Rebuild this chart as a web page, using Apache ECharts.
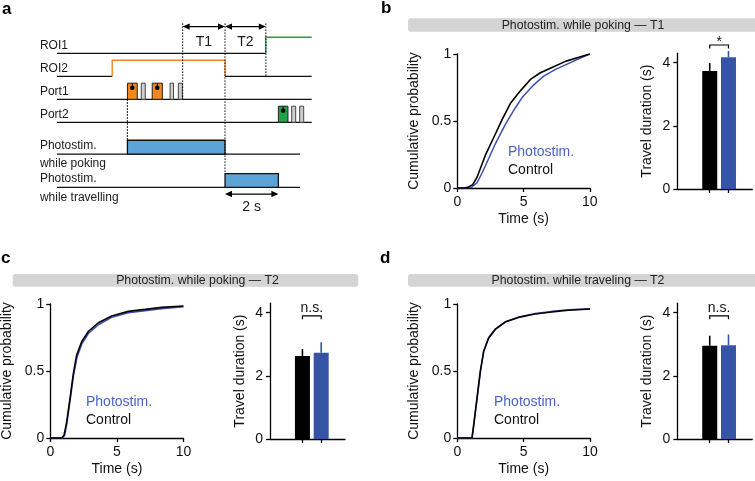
<!DOCTYPE html>
<html>
<head>
<meta charset="utf-8">
<script src="https://cdn.jsdelivr.net/npm/echarts@6/dist/echarts.min.js"></script>
<style>html,body{margin:0;padding:0;background:#fff;}#c{width:755px;height:481px;}</style>
</head>
<body>
<div id="c"></div>
<script>
// ---------------- DATA ----------------
// Panel a: schematic event times (s) and row levels
const rowNames = ['ROI1', 'ROI2', 'Port1', 'Port2', 'Photostim.\nwhile poking', 'Photostim.\nwhile travelling'];
const rowLevel = [0, 1, 2, 3, 4.38, 5.83];
const traceEnd = 9.55;
const stimTraceEnd = 9.11;
const roi1On = 7.83;
const roi2On = 2.07;
const roi2Off = 6.30;
const port1Pokes = [[2.64, 3.01, 'reward'], [3.16, 3.31, 'poke'], [3.57, 3.95, 'reward'], [4.24, 4.37, 'poke'], [4.55, 4.70, 'poke']];
const port2Pokes = [[8.30, 8.66, 'reward'], [8.80, 8.95, 'poke'], [9.10, 9.25, 'poke']];
const stimPoking = [2.64, 6.30];
const stimTravel = [6.30, 8.30];
const intervalT1 = [4.71, 6.30];
const intervalT2 = [6.30, 7.83];
const twoSec = [6.30, 8.30];

// CDF curves [time (s), cumulative probability]
const bControl = [[0,0],[0.5,0],[0.86,0.008],[1.16,0.025],[1.49,0.08],[2.12,0.245],[2.74,0.375],[3.38,0.51],[4.0,0.63],[4.76,0.725],[5.52,0.81],[6.27,0.86],[7.15,0.90],[8.16,0.945],[9.17,0.975],[10,1.0]];
const bPhoto = [[0,0],[0.6,0],[1.1,0.008],[1.49,0.04],[1.86,0.11],[2.37,0.22],[2.87,0.33],[3.63,0.475],[4.26,0.58],[4.89,0.675],[5.77,0.77],[6.52,0.835],[7.41,0.885],[8.41,0.93],[9.29,0.97],[10,1.0]];
const cControl = [[0,0],[0.85,0],[1.03,0.02],[1.23,0.12],[1.48,0.295],[1.73,0.48],[1.98,0.62],[2.36,0.72],[2.86,0.795],[3.61,0.86],[4.61,0.91],[5.86,0.945],[7.12,0.96],[8.37,0.975],[10,0.985]];
const cPhoto = [[0,0],[0.9,0],[1.08,0.02],[1.25,0.11],[1.5,0.29],[1.75,0.47],[2.0,0.6],[2.36,0.70],[2.86,0.78],[3.61,0.845],[4.61,0.90],[5.86,0.935],[7.12,0.95],[8.37,0.965],[10,0.98]];
const dControl = [[0,0],[1.1,0],[1.23,0.095],[1.48,0.295],[1.73,0.495],[1.98,0.645],[2.36,0.745],[2.86,0.81],[3.61,0.865],[4.61,0.90],[5.86,0.925],[7.12,0.94],[8.37,0.953],[10,0.963]];
const dPhoto = [[0,0],[1.12,0],[1.25,0.10],[1.5,0.30],[1.75,0.50],[2.0,0.65],[2.36,0.75],[2.86,0.813],[3.61,0.867],[4.61,0.902],[5.86,0.93],[7.12,0.945],[8.37,0.958],[10,0.965]];

// Bar charts: travel duration (s), mean and upper error
const barGroups = ['Control', 'Photostim.'];
const barPos = [1, 2];
const bMeans = [3.74, 4.17], bErr = [0.25, 0.20];
const cMeans = [2.63, 2.73], cErr = [0.22, 0.33];
const dMeans = [2.95, 2.97], dErr = [0.32, 0.34];
const sigLabels = ['*', 'n.s.', 'n.s.'];
const bracketLevel = [4.56, 3.9, 3.9];

const cdfTicks = [0, 0.5, 1];
const timeTicks = [0, 5, 10];
const durTicks = [0, 2, 4];

// ---------------- STYLE ----------------
const FONT = "'Liberation Sans', Arial, Helvetica, sans-serif";
const BLACK = '#000';
const BLUE_BAR = '#3654a5';
const BLUE_LINE = '#3f4fae';
const BLUE_TEXT = '#4a64c4';
const ORANGE = '#f3861f';
const GREEN = '#1ea24b';
const STIM = '#5ca4d8';

const chart = echarts.init(document.getElementById('c'), null, {renderer: 'canvas'});

// Panel a renderer
function renderA(params, api) {
  const P = (t, y) => api.coord([t, y]);
  const ch = [];
  const line = (pts, color, w, dash) => ch.push({type: 'polyline', shape: {points: pts.map(p => P(p[0], p[1]))}, style: {stroke: color, lineWidth: w, fill: null, lineDash: dash || null}});
  const rect = (t0, t1, yb, h, fill, stroke, lw) => {
    const a = P(t0, yb - h), b = P(t1, yb);
    ch.push({type: 'rect', shape: {x: a[0], y: a[1], width: b[0] - a[0], height: b[1] - a[1]}, style: {fill: fill, stroke: stroke, lineWidth: lw}});
  };
  const txt = (t, y, s, size, align, va, color, lh) => {
    const p = P(t, y);
    ch.push({type: 'text', style: {text: s, x: p[0], y: p[1], font: size + 'px ' + FONT, fill: color || '#1a1a1a', align: align, verticalAlign: va, lineHeight: lh || size}});
  };
  const arrow = (t0, t1, y) => {
    const a = P(t0, y), b = P(t1, y);
    const L = 7, W = 3.2;
    ch.push({type: 'line', shape: {x1: a[0] + 2, y1: a[1], x2: b[0] - 2, y2: b[1]}, style: {stroke: '#000', lineWidth: 1.3}});
    ch.push({type: 'polygon', shape: {points: [[a[0], a[1]], [a[0] + L, a[1] - W], [a[0] + L, a[1] + W]]}, style: {fill: '#000'}});
    ch.push({type: 'polygon', shape: {points: [[b[0], b[1]], [b[0] - L, b[1] - W], [b[0] - L, b[1] + W]]}, style: {fill: '#000'}});
  };
  const HH = 0.7, SH = 0.6;
  // traces
  line([[0, rowLevel[0]], [roi1On, rowLevel[0]]], '#111', 1.2);
  line([[roi1On, rowLevel[0]], [roi1On, rowLevel[0] - HH], [traceEnd, rowLevel[0] - HH]], GREEN, 1.4);
  line([[0, rowLevel[1]], [roi2On, rowLevel[1]]], '#111', 1.2);
  line([[roi2On, rowLevel[1]], [roi2On, rowLevel[1] - HH], [roi2Off, rowLevel[1] - HH], [roi2Off, rowLevel[1]]], ORANGE, 1.4);
  line([[roi2Off, rowLevel[1]], [traceEnd, rowLevel[1]]], '#111', 1.2);
  line([[0, rowLevel[2]], [traceEnd, rowLevel[2]]], '#111', 1.2);
  line([[0, rowLevel[3]], [traceEnd, rowLevel[3]]], '#111', 1.2);
  line([[0, rowLevel[4]], [stimTraceEnd, rowLevel[4]]], '#111', 1.2);
  line([[0, rowLevel[5]], [stimTraceEnd, rowLevel[5]]], '#111', 1.2);
  // stim boxes
  rect(stimPoking[0], stimPoking[1], rowLevel[4], SH, STIM, '#111', 1.3);
  rect(stimTravel[0], stimTravel[1], rowLevel[5], SH, STIM, '#111', 1.3);
  // pokes
  const drawPokes = (arr, lvl, rewardColor) => arr.forEach(p => {
    if (p[2] === 'reward') {
      rect(p[0], p[1], lvl, HH, rewardColor, '#222', 1);
      const top = P((p[0] + p[1]) / 2, lvl - HH);
      ch.push({type: 'line', shape: {x1: top[0], y1: top[1], x2: top[0], y2: top[1] + 4}, style: {stroke: '#000', lineWidth: 1}});
      ch.push({type: 'circle', shape: {cx: top[0], cy: top[1] + 4.5, r: 2.3}, style: {fill: '#000'}});
    } else {
      rect(p[0], p[1], lvl, HH, '#cfcfcf', '#444', 1);
    }
  });
  drawPokes(port1Pokes, rowLevel[2], ORANGE);
  drawPokes(port2Pokes, rowLevel[3], GREEN);
  // dotted guides
  const dash = [1.4, 1.6];
  line([[intervalT1[0], -1.3], [intervalT1[0], rowLevel[2]]], '#000', 1.2, dash);
  line([[intervalT1[1], -1.3], [intervalT1[1], rowLevel[5] - SH]], '#000', 1.2, dash);
  line([[intervalT2[1], -1.3], [intervalT2[1], rowLevel[1]]], '#000', 1.2, dash);
  line([[stimPoking[0], rowLevel[2]], [stimPoking[0], rowLevel[4] - SH]], '#000', 1.2, dash);
  // arrows
  arrow(intervalT1[0], intervalT1[1], -1.16);
  arrow(intervalT2[0], intervalT2[1], -1.16);
  arrow(twoSec[0], twoSec[1], 6.12);
  txt((intervalT1[0] + intervalT1[1]) / 2, -0.5, 'T1', 14, 'center', 'middle');
  txt((intervalT2[0] + intervalT2[1]) / 2, -0.5, 'T2', 14, 'center', 'middle');
  txt((twoSec[0] + twoSec[1]) / 2, 6.67, '2 s', 14, 'center', 'middle');
  // row labels
  rowNames.forEach((n, i) => {
    if (n.indexOf('\n') >= 0) txt(-0.64, rowLevel[i] + 0.03, n, 12, 'left', 'middle', '#1a1a1a', 18.5);
    else txt(-0.64, rowLevel[i] - 0.05, n, 12, 'left', 'bottom');
  });
  return {type: 'group', children: ch};
}

function errRender(means, errs) {
  return function (params, api) {
    const i = params.dataIndex;
    const a = api.coord([barPos[i], means[i]]);
    const b = api.coord([barPos[i], means[i] + errs[i]]);
    return {type: 'line', shape: {x1: a[0], y1: a[1], x2: b[0], y2: b[1]}, style: {stroke: i === 0 ? '#000' : BLUE_BAR, lineWidth: 1.6}};
  };
}
function bracketRender(k) {
  return function (params, api) {
    const a = api.coord([barPos[0], bracketLevel[k]]);
    const b = api.coord([barPos[1], bracketLevel[k]]);
    const lab = sigLabels[k];
    return {type: 'group', children: [
      {type: 'polyline', shape: {points: [[a[0], a[1] + 3.5], [a[0], a[1]], [b[0], b[1]], [b[0], b[1] + 3.5]]}, style: {stroke: '#000', lineWidth: 1.2, fill: null}},
      {type: 'text', style: {text: lab, x: (a[0] + b[0]) / 2, y: a[1] + (lab === '*' ? 4 : -1), font: '14px ' + FONT, fill: '#111', align: 'center', verticalAlign: 'bottom'}}
    ]};
  };
}

const grids = [
  {left: 57, top: 16.5, width: 254.7, height: 197.8},          // a
  {left: 457.3, top: 54, width: 132.5, height: 134},            // b cdf
  {left: 677.3, top: 53.2, width: 75, height: 135.8},           // b bar
  {left: 50.3, top: 304, width: 133.2, height: 134},            // c cdf
  {left: 270, top: 303.2, width: 75, height: 135.8},            // c bar
  {left: 457.3, top: 304, width: 132.7, height: 134},           // d cdf
  {left: 677.3, top: 303.2, width: 75, height: 135.8}           // d bar
].map(g => Object.assign({outerBoundsMode: 'none', containLabel: false}, g));

const axLine = {show: true, onZero: false, lineStyle: {color: '#000', width: 1.3}};
const axTick = {show: true, inside: false, length: 4, lineStyle: {color: '#000', width: 1.3}};
const axLabel = {color: '#111', fontSize: 14, fontFamily: FONT};
const nameStyle = {color: '#111', fontSize: 14, fontFamily: FONT};

const xAxes = [{gridIndex: 0, type: 'value', min: 0, max: 9.55, show: false}];
const yAxes = [{gridIndex: 0, type: 'value', min: -1.6, max: 7, inverse: true, show: false}];
[1, 3, 5].forEach(g => {
  xAxes.push({gridIndex: g, type: 'value', min: 0, max: 10, interval: 5, axisLine: axLine, axisTick: axTick, splitLine: {show: false},
    axisLabel: Object.assign({margin: 7}, axLabel), name: 'Time (s)', nameLocation: 'middle', nameGap: 24, nameTextStyle: nameStyle});
  yAxes.push({gridIndex: g, type: 'value', min: 0, max: 1, interval: 0.5, axisLine: axLine, axisTick: axTick, splitLine: {show: false},
    axisLabel: Object.assign({margin: 6}, axLabel), name: 'Cumulative probability', nameLocation: 'middle', nameGap: 36, nameTextStyle: nameStyle});
  xAxes.push({gridIndex: g + 1, type: 'value', min: -0.73, max: 3.27, axisLine: axLine,
    axisTick: Object.assign({customValues: barPos}, axTick), axisLabel: {show: false}, splitLine: {show: false}});
  yAxes.push({gridIndex: g + 1, type: 'value', min: 0, max: 4.3, interval: 2, axisLine: axLine,
    axisTick: Object.assign({customValues: durTicks}, axTick), splitLine: {show: false},
    axisLabel: Object.assign({margin: 7, customValues: durTicks}, axLabel),
    name: 'Travel duration (s)', nameLocation: 'middle', nameGap: 23, nameTextStyle: nameStyle});
});

const cdfSets = [[bPhoto, bControl], [cPhoto, cControl], [dPhoto, dControl]];
const barSets = [[bMeans, bErr], [cMeans, cErr], [dMeans, dErr]];

const series = [{type: 'custom', xAxisIndex: 0, yAxisIndex: 0, data: [[0, 0]], renderItem: renderA, clip: false, silent: true}];
cdfSets.forEach((s, k) => {
  const ax = 1 + k * 2;
  series.push({type: 'line', name: barGroups[1], xAxisIndex: ax, yAxisIndex: ax, data: s[0], showSymbol: false, symbol: 'none', lineStyle: {color: BLUE_LINE, width: 1.5}, itemStyle: {color: BLUE_LINE}});
  series.push({type: 'line', name: barGroups[0], xAxisIndex: ax, yAxisIndex: ax, data: s[1], showSymbol: false, symbol: 'none', lineStyle: {color: BLACK, width: 1.6}, itemStyle: {color: BLACK}});
});
barSets.forEach((s, k) => {
  const ax = 2 + k * 2;
  series.push({type: 'bar', xAxisIndex: ax, yAxisIndex: ax, barWidth: 15,
    data: barPos.map((p, i) => ({value: [p, s[0][i]], itemStyle: {color: i === 0 ? BLACK : BLUE_BAR}}))});
  series.push({type: 'custom', xAxisIndex: ax, yAxisIndex: ax, data: barPos.map((p, i) => [p, s[0][i] + s[1][i]]), renderItem: errRender(s[0], s[1]), clip: false, z: 3});
  series.push({type: 'custom', xAxisIndex: ax, yAxisIndex: ax, data: [[1.5, bracketLevel[k]]], renderItem: bracketRender(k), clip: false, z: 3});
});

const TF = '12.3px ' + FONT;
const graphic = [
  // panel letters
  {type: 'text', left: 2, top: 1, style: {text: 'a', font: 'bold 17px ' + FONT, fill: '#000'}},
  {type: 'text', left: 381, top: 0, style: {text: 'b', font: 'bold 17px ' + FONT, fill: '#000'}},
  {type: 'text', left: 1, top: 250, style: {text: 'c', font: 'bold 17px ' + FONT, fill: '#000'}},
  {type: 'text', left: 380, top: 250, style: {text: 'd', font: 'bold 17px ' + FONT, fill: '#000'}},
  // title bars
  {type: 'rect', shape: {x: 408, y: 18.3, width: 352, height: 13.4, r: 3}, style: {fill: '#d4d4d4'}},
  {type: 'rect', shape: {x: 12.7, y: 274, width: 345.6, height: 12.7, r: 3}, style: {fill: '#d4d4d4'}},
  {type: 'rect', shape: {x: 408, y: 274, width: 352, height: 12.7, r: 3}, style: {fill: '#d4d4d4'}},
  {type: 'text', style: {text: 'Photostim. while poking — T1', x: 583, y: 25.3, font: TF, fill: '#222', align: 'center', verticalAlign: 'middle'}},
  {type: 'text', style: {text: 'Photostim. while poking — T2', x: 197.5, y: 280.5, font: TF, fill: '#222', align: 'center', verticalAlign: 'middle'}},
  {type: 'text', style: {text: 'Photostim. while traveling — T2', x: 578, y: 280.5, font: TF, fill: '#222', align: 'center', verticalAlign: 'middle'}},
  // in-plot legends
  {type: 'text', style: {text: barGroups[1], x: 508, y: 152, font: '14px ' + FONT, fill: BLUE_TEXT, align: 'left', verticalAlign: 'middle'}},
  {type: 'text', style: {text: barGroups[0], x: 508, y: 170, font: '14px ' + FONT, fill: '#111', align: 'left', verticalAlign: 'middle'}},
  {type: 'text', style: {text: barGroups[1], x: 86, y: 401.7, font: '14px ' + FONT, fill: BLUE_TEXT, align: 'left', verticalAlign: 'middle'}},
  {type: 'text', style: {text: barGroups[0], x: 86, y: 420, font: '14px ' + FONT, fill: '#111', align: 'left', verticalAlign: 'middle'}},
  {type: 'text', style: {text: barGroups[1], x: 494, y: 401.7, font: '14px ' + FONT, fill: BLUE_TEXT, align: 'left', verticalAlign: 'middle'}},
  {type: 'text', style: {text: barGroups[0], x: 494, y: 420, font: '14px ' + FONT, fill: '#111', align: 'left', verticalAlign: 'middle'}}
];

chart.setOption({
  animation: false,
  backgroundColor: '#fff',
  grid: grids,
  xAxis: xAxes,
  yAxis: yAxes,
  series: series,
  graphic: graphic
});
</script>
</body>
</html>
